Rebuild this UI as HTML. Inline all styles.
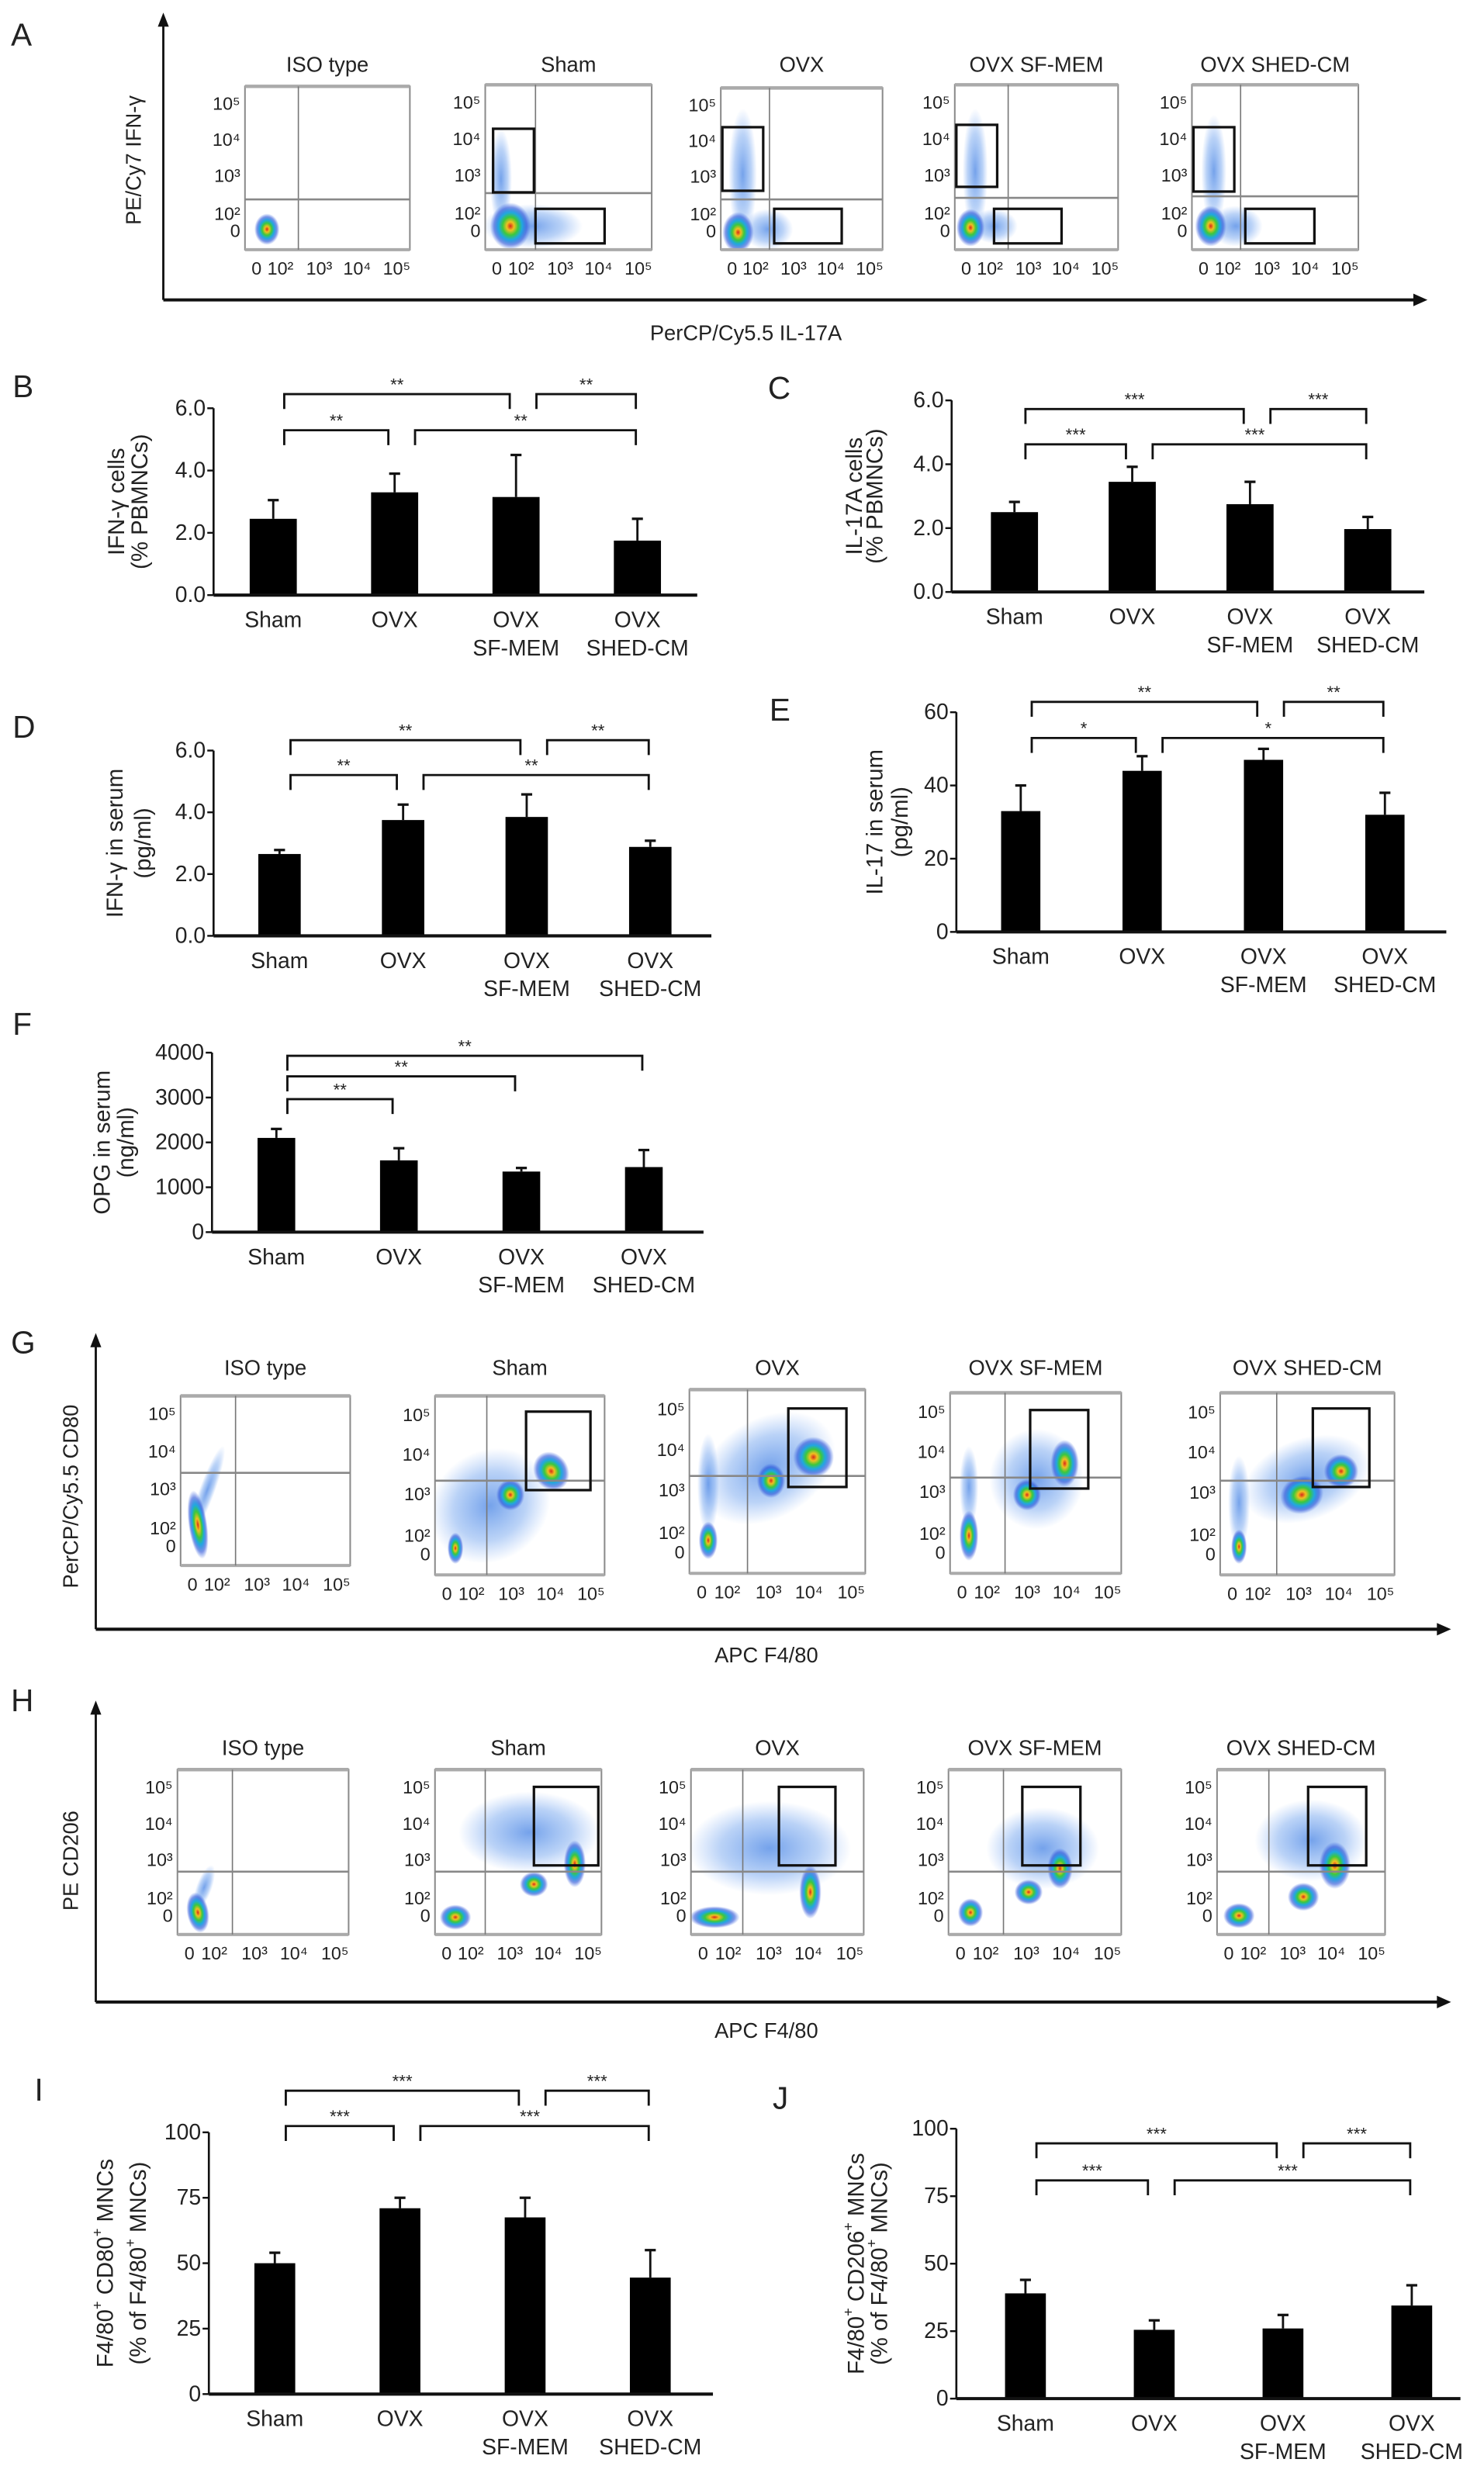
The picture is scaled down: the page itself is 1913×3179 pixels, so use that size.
<!DOCTYPE html>
<html><head><meta charset="utf-8"><style>
html,body{margin:0;padding:0;background:#fff}
svg{display:block}
text{font-family:"Liberation Sans Narrow","Liberation Sans",sans-serif;fill:#222}
</style></head><body>
<svg id="fig" width="1913" height="3179" viewBox="0 0 945 1570.5" preserveAspectRatio="none" xmlns="http://www.w3.org/2000/svg">
<defs>
<radialGradient id="heat"><stop offset="0" stop-color="#d8281a"/><stop offset="0.18" stop-color="#f0c020"/><stop offset="0.38" stop-color="#3cc83c"/><stop offset="0.58" stop-color="#20a8e0"/><stop offset="0.8" stop-color="#2850d8" stop-opacity="0.6"/><stop offset="1" stop-color="#3060e0" stop-opacity="0"/></radialGradient>
<radialGradient id="cool"><stop offset="0" stop-color="#2a70e0" stop-opacity="0.65"/><stop offset="0.6" stop-color="#3a80e8" stop-opacity="0.35"/><stop offset="1" stop-color="#4a8af0" stop-opacity="0"/></radialGradient>
</defs>
</svg>
<script>
// ---------- bar chart data ----------
const categories = ["Sham","OVX","OVX SF-MEM","OVX SHED-CM"];
const bValues = [2.45, 3.3, 3.15, 1.75];
const bErrors = [3.05, 3.9, 4.5, 2.45];
const bTicks = ["0.0","2.0","4.0","6.0"];
const cValues = [2.5, 3.45, 2.75, 1.97];
const cErrors = [2.82, 3.92, 3.45, 2.35];
const cTicks = ["0.0","2.0","4.0","6.0"];
const dValues = [2.65, 3.75, 3.85, 2.88];
const dErrors = [2.78, 4.25, 4.58, 3.08];
const dTicks = ["0.0","2.0","4.0","6.0"];
const eValues = [33, 44, 47, 32];
const eErrors = [40, 48, 50, 38];
const eTicks = ["0","20","40","60"];
const fValues = [2100, 1600, 1350, 1450];
const fErrors = [2300, 1870, 1430, 1830];
const fTicks = ["0","1000","2000","3000","4000"];
const iValues = [50, 71, 67.5, 44.5];
const iErrors = [54, 75, 75, 55];
const iTicks = ["0","25","50","75","100"];
const jValues = [39, 25.5, 26, 34.5];
const jErrors = [44, 29, 31, 42];
const jTicks = ["0","25","50","75","100"];
// significance comparisons: [from, to, level, label]
const sigStd2 = [[0,2,1,"**"],[2,3,1,"**"],[0,1,0,"**"],[1,3,0,"**"]];
const sigStd3 = [[0,2,1,"***"],[2,3,1,"***"],[0,1,0,"***"],[1,3,0,"***"]];
const sigE = [[0,2,1,"**"],[2,3,1,"**"],[0,1,0,"*"],[1,3,0,"*"]];
const sigF = [[0,3,2,"**"],[0,2,1,"**"],[0,1,0,"**"]];

const NS="http://www.w3.org/2000/svg";
const svg=document.getElementById('fig');
function el(tag,attrs,parent){const e=document.createElementNS(NS,tag);for(const k in attrs)e.setAttribute(k,attrs[k]);(parent||svg).appendChild(e);return e;}
function txt(s,x,y,size,parent,anchor,extra){const t=el('text',Object.assign({x:x,y:y,'font-size':size,'text-anchor':anchor||'middle','dominant-baseline':'central'},extra||{}),parent);t.textContent=s;return t;}

function panelLabel(s,x,y){const t=txt(s,x,y,20,svg,'start');}

function barChart(id,values,errors,ticks,maxV,L,sig,title){
  const g=el('g',{});
  
  
  const yS=v=>L.y0-(v/maxV)*(L.y0-L.y1);
  const xC=i=>L.c0+i*L.step;
  const ya=el('line',{x1:L.ax,y1:L.y0,x2:L.ax,y2:L.y1,stroke:'#111','stroke-width':1.3},g);
  
  
  ticks.forEach((t,k)=>{const v=maxV*k/(ticks.length-1);const y=yS(v);
    el('line',{x1:L.ax-4,y1:y,x2:L.ax,y2:y,stroke:'#111','stroke-width':1.2},g);
    const tl=txt(t,L.ax-5,y,14,g,'end');
    
    });
  values.forEach((v,i)=>{const cx=xC(i);
    const ey=yS(errors[i]);
    el('line',{x1:cx,y1:yS(v),x2:cx,y2:ey,stroke:'#111','stroke-width':1.4},g);
    el('line',{x1:cx-3.5,y1:ey,x2:cx+3.5,y2:ey,stroke:'#111','stroke-width':1.6},g);
    const r=el('rect',{x:cx-L.bw/2,y:yS(v),width:L.bw,height:L.y0-yS(v),fill:'#000'},g);
    
    
    const parts=categories[i].split(' ');
    const l1=parts[0], l2=parts.slice(1).join(' ');
    const c1=txt(l1,cx,L.y0+16,14,g);
    
    
    if(l2){const c2=txt(l2,cx,L.y0+34,14,g);
      
      }
  });
  const xa=el('line',{x1:L.ax,y1:L.y0,x2:L.xe,y2:L.y0,stroke:'#111','stroke-width':2},g);
  
  
  const drop=9.5;
  sig.forEach(s=>{const [a,b,lvl,lab]=s;const y=L.by[lvl];
    const shared=sig.some(o=>o!==s&&o[2]===lvl&&o[1]===a);
    const x1=xC(a)+(shared?13:7), x2=xC(b)-(b===3?1:4);
    const p=el('path',{d:`M${x1},${y+drop} L${x1},${y} L${x2},${y} L${x2},${y+drop}`,fill:'none',stroke:'#111','stroke-width':1.4},g);
    
    
    let sx=(x1+x2)/2;
    if(lvl===0&&a===1) sx=xC(2)+3;
    const st=txt(lab,sx,y-6,11,g);
    
    
  });
  const tg=el('g',{transform:`translate(${L.ax+L.t1},${(L.y0+L.y1)/2}) rotate(-90)`},g);
  
  
  title.forEach((line,k)=>{const t=el('text',{x:0,y:k*(L.t2-L.t1),'font-size':14.5,'text-anchor':'middle','dominant-baseline':'central','font-family':'"Liberation Sans",sans-serif'},tg);
    line.forEach(seg=>{const ts=el('tspan',seg[1]?{'baseline-shift':'super','font-size':9}:{},t);ts.textContent=seg[0];});});
}

panelLabel('B',8,246);
barChart('b',bValues,bErrors,bTicks,6,{ax:136,y0:379,y1:260,c0:174,step:77.3,bw:30,xe:444,by:[274,251],t1:-62,t2:-47},sigStd2,[[["IFN-γ cells"]],[["(% PBMNCs)"]]]);
panelLabel('C',489,247);
barChart('c',cValues,cErrors,cTicks,6,{ax:606,y0:377,y1:255,c0:646,step:75,bw:30,xe:907,by:[283,260.5],t1:-62,t2:-49},sigStd3,[[["IL-17A cells"]],[["(% PBMNCs)"]]]);
panelLabel('D',8,463);
barChart('d',dValues,dErrors,dTicks,6,{ax:136,y0:596,y1:478,c0:178,step:78.7,bw:27,xe:453,by:[493.6,471.4],t1:-63,t2:-45},sigStd2,[[["IFN-γ in serum"]],[["(pg/ml)"]]]);
panelLabel('E',490,452);
barChart('e',eValues,eErrors,eTicks,60,{ax:609,y0:593.5,y1:453.6,c0:650,step:77.3,bw:25,xe:921,by:[470,447],t1:-52,t2:-36},sigE,[[["IL-17 in serum"]],[["(pg/ml)"]]]);
panelLabel('F',8,652);
barChart('f',fValues,fErrors,fTicks,4000,{ax:135,y0:784.7,y1:670.4,c0:176,step:78,bw:24,xe:448,by:[700,685.5,672.4],t1:-70,t2:-55},sigF,[[["OPG in serum"]],[["(ng/ml)"]]]);
panelLabel('I',22,1331);
barChart('i',iValues,iErrors,iTicks,100,{ax:133,y0:1524.7,y1:1358,c0:175,step:79.7,bw:26,xe:454,by:[1354,1331.5],t1:-66,t2:-45},sigStd3,[[["F4/80"],["+",1],[" CD80"],["+",1],[" MNCs"]],[["(% of F4/80"],["+",1],[" MNCs)"]]]);
panelLabel('J',492,1336);
barChart('j',jValues,jErrors,jTicks,100,{ax:609,y0:1527.6,y1:1355.7,c0:653,step:82,bw:26,xe:930,by:[1388.6,1365],t1:-64,t2:-49},sigStd3,[[["F4/80"],["+",1],[" CD206"],["+",1],[" MNCs"]],[["(% of F4/80"],["+",1],[" MNCs)"]]]);

// ---------- flow cytometry panels ----------
const flowTitles = ["ISO type","Sham","OVX","OVX SF-MEM","OVX SHED-CM"];
const yTickText = ["10⁵","10⁴","10³","10²","0"];
const yTickFrac = [0.106,0.327,0.548,0.779,0.885];
const xTickText = ["0","10²","10³","10⁴","10⁵"];
const xTickFrac = [0.07,0.215,0.45,0.68,0.92];
const aClusters = [
 [[14,91,8,10,0,'heat']],
 [[10,60,7,32,0,'cool'],[30,90,32,14,0,'cool'],[16,90,13,15,0,'heat']],
 [[14,55,9,42,0,'cool'],[30,90,16,13,0,'cool'],[11,92,10,13,0,'heat']],
 [[13,55,8,40,0,'cool'],[25,90,15,11,0,'cool'],[10,91,9,12,0,'heat']],
 [[14,55,8,36,0,'cool'],[28,90,17,13,0,'cool'],[12,90,10,13,0,'heat']]];
const gClusters = [
 [[17,60,5,30,20,'cool'],[11,82,6,22,-8,'heat']],
 [[35,70,40,35,-35,'cool'],[13,97,5,10,0,'heat'],[48,63,9,10,0,'heat'],[74,48,11,13,-30,'heat']],
 [[50,50,46,32,-30,'cool'],[12,60,7,32,0,'cool'],[12,96,6,12,0,'heat'],[52,58,9,11,0,'heat'],[79,43,13,13,-30,'heat']],
 [[55,55,30,32,0,'cool'],[12,60,6,26,0,'cool'],[12,91,6,16,0,'heat'],[49,65,9,10,0,'heat'],[73,45,9,15,0,'heat']],
 [[55,55,42,26,-20,'cool'],[12,70,7,30,0,'cool'],[12,98,5,11,0,'heat'],[52,65,14,12,-20,'heat'],[77,50,11,11,0,'heat']]];
const hClusters = [
 [[17,75,5,15,20,'cool'],[13,91,7,13,-10,'heat']],
 [[60,40,45,26,0,'cool'],[13,94,10,8,0,'heat'],[63,73,9,8,0,'heat'],[89,60,7,15,0,'heat']],
 [[50,50,52,30,0,'cool'],[15,94,16,7,0,'heat'],[76,78,7,17,0,'heat']],
 [[60,50,36,26,0,'cool'],[14,91,8,9,0,'heat'],[51,78,9,8,0,'heat'],[71,63,8,13,0,'heat']],
 [[60,45,36,26,0,'cool'],[14,93,10,8,0,'heat'],[55,81,10,9,0,'heat'],[75,61,10,15,0,'heat']]];

function flowPanel(id,boxes,quads,gates,clusters,axis,xTitle,yTitle,titleY){
  const g=el('g',{});
  
  
  boxes.forEach((b,i)=>{const [x0,y0,x1,y1]=b;const w=x1-x0,h=y1-y0;
    const pg=el('g',{},g);
    
    
    const clip='clip-'+id+i;
    const cp=el('clipPath',{id:clip},pg);el('rect',{x:x0,y:y0,width:w,height:h},cp);
    const cg=el('g',{'clip-path':`url(#${clip})`},pg);
    clusters[i].forEach(c=>{const e=el('ellipse',{cx:x0+c[0],cy:y0+c[1],rx:c[2],ry:c[3],fill:`url(#${c[5]})`,transform:`rotate(${c[4]} ${x0+c[0]} ${y0+c[1]})`},cg);
      
      });
    el('rect',{x:x0,y:y0,width:w,height:h,fill:'none',stroke:'#8a8a8a','stroke-width':1},pg);
    el('line',{x1:x0,y1:y0,x2:x1,y2:y0,stroke:'#aaa','stroke-width':2.2},pg);
    el('line',{x1:x0,y1:y1,x2:x1,y2:y1,stroke:'#aaa','stroke-width':2},pg);
    el('line',{x1:x0+quads[i][0],y1:y0,x2:x0+quads[i][0],y2:y1,stroke:'#777','stroke-width':0.8},pg);
    el('line',{x1:x0,y1:y0+quads[i][1],x2:x1,y2:y0+quads[i][1],stroke:'#888','stroke-width':1.3},pg);
    gates[i].forEach(q=>{const r=el('rect',{x:q[0],y:q[1],width:q[2]-q[0],height:q[3]-q[1],fill:'none',stroke:'#111','stroke-width':1.6},pg);
      
      });
    const tt=txt(flowTitles[i],x0+w/2,titleY,13.5,pg);
    
    
    yTickText.forEach((s,k)=>{txt(s,x0-3,y0+h*yTickFrac[k],11.5,pg,'end');});
    xTickText.forEach((s,k)=>{txt(s,x0+w*xTickFrac[k],y1+12,11.5,pg,'middle');});
  });
  const [ax,top,bot,right]=axis;
  const ya=el('line',{x1:ax,y1:bot,x2:ax,y2:top+8,stroke:'#111','stroke-width':1.4},g);
  
  
  el('path',{d:`M${ax-3.5},${top+9} L${ax},${top} L${ax+3.5},${top+9} Z`,fill:'#111'},g);
  const xa=el('line',{x1:ax,y1:bot,x2:right-8,y2:bot,stroke:'#111','stroke-width':2},g);
  
  
  el('path',{d:`M${right-9},${bot-4} L${right},${bot} L${right-9},${bot+4} Z`,fill:'#111'},g);
  const xt=txt(xTitle[0],xTitle[1],xTitle[2],13.5,g);
  
  
  const yt=txt(yTitle[0],0,0,13.5,g,'middle',{transform:`translate(${yTitle[1]},${yTitle[2]}) rotate(-90)`,'font-family':'"Liberation Sans",sans-serif'});
  
  
}

panelLabel('A',7,22);
flowPanel('a',
 [[156,55,261,159],[309,54,415,159],[459,56,562,159],[608,54,712,159],[759,54,865,159]],
 [[34,72],[32,69],[31,71],[34,72],[31,71]],
 [[],[[314,82,340,122.5],[341,133,385,155]],[[460,81,486,121.5],[493,133,536,155]],[[609,79.5,635,119],[633,133,676,155]],[[760,81,786,122],[793,133,837,155]]],
 aClusters,[104,8,191,909],["PerCP/Cy5.5 IL-17A",475,212],["PE/Cy7 IFN-γ",85,102],41);

panelLabel('G',7,855);
flowPanel('g',
 [[115,889,223,997],[277,889,385,1003],[439,885,551,1002],[605,887,714,1002],[777,887,888,1003]],
 [[35,49],[33,54],[37,55],[35,54],[36,56]],
 [[],[[335,899,376,949]],[[502,897,539,947]],[[656,898,693,948]],[[836,897,872,947]]],
 gClusters,[61,849,1037.6,924],["APC F4/80",488,1054],["PerCP/Cy5.5 CD80",45,953],871);

panelLabel('H',7,1083);
flowPanel('h',
 [[113,1127,222,1232],[277,1127,383,1232],[440,1127,550,1232],[604,1127,714,1232],[775,1127,882,1232]],
 [[35,65],[32,65],[33,65],[35,65],[33,65]],
 [[],[[340,1138,381,1188]],[[496,1138,532,1188]],[[651,1138,688,1188]],[[833,1138,870,1188]]],
 hClusters,[61,1083,1275,924],["APC F4/80",488,1293],["PE CD206",45,1185],1113);
</script>
</body></html>
